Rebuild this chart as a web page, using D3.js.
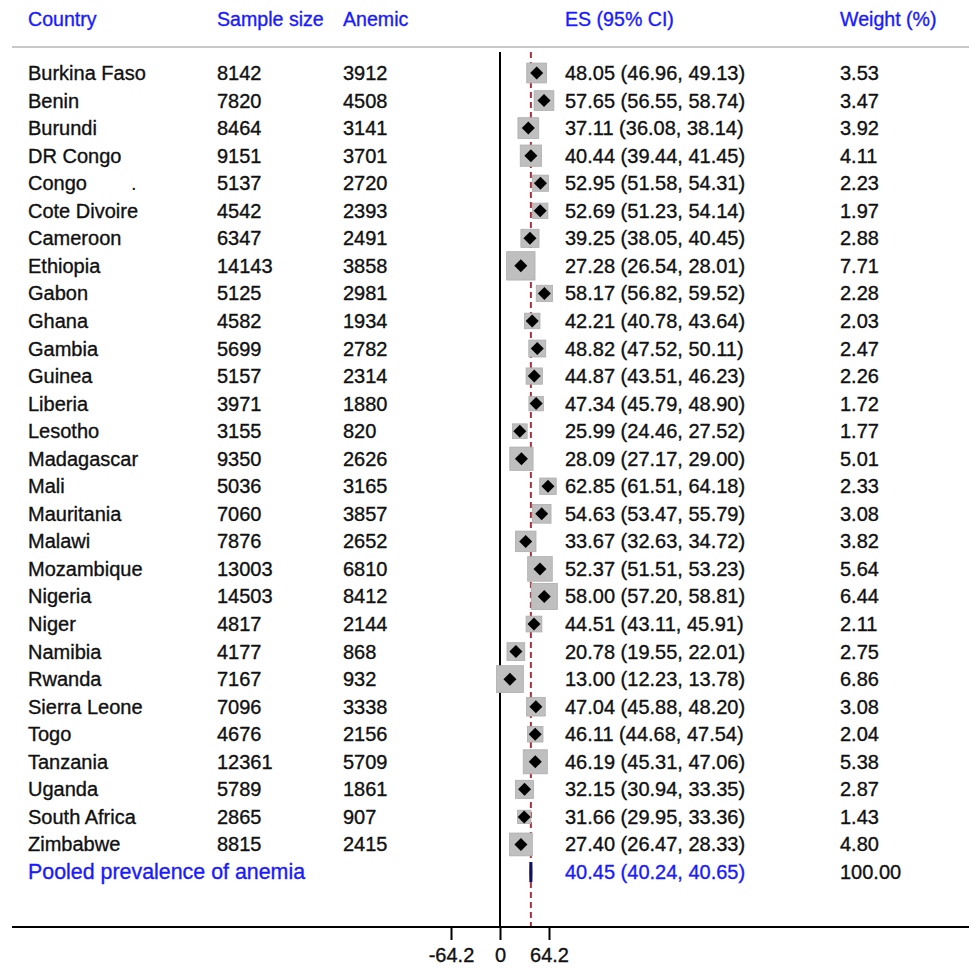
<!DOCTYPE html>
<html><head><meta charset="utf-8">
<script src="https://cdn.jsdelivr.net/npm/d3@7"></script>
<style>body{margin:0;background:#fff}svg{display:block}</style>
</head><body>
<script>
const countries=["Burkina Faso","Benin","Burundi","DR Congo","Congo","Cote Divoire","Cameroon","Ethiopia","Gabon","Ghana","Gambia","Guinea","Liberia","Lesotho","Madagascar","Mali","Mauritania","Malawi","Mozambique","Nigeria","Niger","Namibia","Rwanda","Sierra Leone","Togo","Tanzania","Uganda","South Africa","Zimbabwe"];
const sampleSize=[8142,7820,8464,9151,5137,4542,6347,14143,5125,4582,5699,5157,3971,3155,9350,5036,7060,7876,13003,14503,4817,4177,7167,7096,4676,12361,5789,2865,8815];
const anemic=[3912,4508,3141,3701,2720,2393,2491,3858,2981,1934,2782,2314,1880,820,2626,3165,3857,2652,6810,8412,2144,868,932,3338,2156,5709,1861,907,2415];
const es=[48.05,57.65,37.11,40.44,52.95,52.69,39.25,27.28,58.17,42.21,48.82,44.87,47.34,25.99,28.09,62.85,54.63,33.67,52.37,58.00,44.51,20.78,13.00,47.04,46.11,46.19,32.15,31.66,27.40];
const lo=[46.96,56.55,36.08,39.44,51.58,51.23,38.05,26.54,56.82,40.78,47.52,43.51,45.79,24.46,27.17,61.51,53.47,32.63,51.51,57.20,43.11,19.55,12.23,45.88,44.68,45.31,30.94,29.95,26.47];
const hi=[49.13,58.74,38.14,41.45,54.31,54.14,40.45,28.01,59.52,43.64,50.11,46.23,48.90,27.52,29.00,64.18,55.79,34.72,53.23,58.81,45.91,22.01,13.78,48.20,47.54,47.06,33.35,33.36,28.33];
const weight=[3.53,3.47,3.92,4.11,2.23,1.97,2.88,7.71,2.28,2.03,2.47,2.26,1.72,1.77,5.01,2.33,3.08,3.82,5.64,6.44,2.11,2.75,6.86,3.08,2.04,5.38,2.87,1.43,4.80];
const pooled={label:"Pooled prevalence of anemia",es:40.45,lo:40.24,hi:40.65,weight:"100.00"};
const headers=["Country","Sample size","Anemic","ES (95% CI)","Weight (%)"];
const axisTicks=[-64.2,0,64.2];

const W=969,H=970;
const svg=d3.select("body").append("svg").attr("width",W).attr("height",H);
const font="'Liberation Sans', Arial, sans-serif";
const fs=20;
const blue="#1a1aff";
const ink="#111";
const bold=(sel,col)=>sel.attr("stroke",col).attr("stroke-width",0.35);

const x=d3.scaleLinear().domain([0,64.2]).range([500,549]);
const rows=d3.range(countries.length+1);
const y=d3.scalePoint().domain(rows).range([73,872]);
const colX=[28,217,343,565,840];

// headers
bold(svg.selectAll("text.h").data(headers).join("text")
 .attr("x",(d,i)=>colX[i]).attr("y",19).attr("dy","0.35em")
 .attr("font-family",font).attr("font-size",19.6).attr("fill",blue).text(d=>d),blue);
svg.append("line").attr("x1",12).attr("x2",W).attr("y1",47).attr("y2",47)
 .attr("stroke","#c8c8c8").attr("stroke-width",2);

// null line & dashed pooled line
svg.append("line").attr("x1",x(0)).attr("x2",x(0)).attr("y1",52).attr("y2",927)
 .attr("stroke","#000").attr("stroke-width",2);
svg.append("line").attr("x1",x(pooled.es)).attr("x2",x(pooled.es)).attr("y1",52).attr("y2",927)
 .attr("stroke","#a8323f").attr("stroke-width",2).attr("stroke-dasharray","6,4");

const data=countries.map((c,i)=>({c,n:sampleSize[i],a:anemic[i],es:es[i],lo:lo[i],hi:hi[i],w:weight[i],i}));
const side=w=>2+9.5*Math.sqrt(w);

const g=svg.append("g");
g.selectAll("rect.box").data(data).join("rect")
 .attr("x",d=>x(d.es)-side(d.w)/2).attr("y",d=>y(d.i)-side(d.w)/2)
 .attr("width",d=>side(d.w)).attr("height",d=>side(d.w))
 .attr("fill","#bfbfbf").attr("stroke","#adadad").attr("stroke-width",0.8);
g.selectAll("line.ci").data(data).join("line")
 .attr("x1",d=>x(d.lo)).attr("x2",d=>x(d.hi)).attr("y1",d=>y(d.i)).attr("y2",d=>y(d.i))
 .attr("stroke","#000").attr("stroke-width",1);
g.selectAll("path.dia").data(data).join("path")
 .attr("d",d=>{const cx=x(d.es),cy=y(d.i),r=6.5;return `M${cx-r},${cy}L${cx},${cy-r}L${cx+r},${cy}L${cx},${cy+r}Z`;})
 .attr("fill","#000");

// pooled diamond (very narrow)
const py=y(countries.length);
svg.append("path")
 .attr("d",`M${x(pooled.lo)},${py}L${x(pooled.es)},${py-10}L${x(pooled.hi)},${py}L${x(pooled.es)},${py+10}Z`)
 .attr("fill","#101060").attr("stroke","#101060").attr("stroke-width",3);

// table text
const cols=[d=>d.c,d=>d.n,d=>d.a,d=>`${d.es.toFixed(2)} (${d.lo.toFixed(2)}, ${d.hi.toFixed(2)})`,d=>d.w.toFixed(2)];
cols.forEach((f,ci)=>{
 bold(svg.selectAll("text.c"+ci).data(data).join("text")
  .attr("x",colX[ci]).attr("y",d=>y(d.i)).attr("dy","0.35em")
  .attr("font-family",font).attr("font-size",fs).attr("fill",ink).text(f),ink);
});
// stray dot after Congo
svg.append("text").attr("x",131).attr("y",y(4)).attr("dy","0.35em")
 .attr("font-family",font).attr("font-size",fs).attr("fill",ink).text(".");

bold(svg.append("text").attr("x",colX[0]).attr("y",py).attr("dy","0.35em")
 .attr("font-family",font).attr("font-size",21.4).attr("fill",blue).text(pooled.label),blue);
bold(svg.append("text").attr("x",colX[3]).attr("y",py).attr("dy","0.35em")
 .attr("font-family",font).attr("font-size",fs).attr("fill",blue)
 .text(`${pooled.es.toFixed(2)} (${pooled.lo.toFixed(2)}, ${pooled.hi.toFixed(2)})`),blue);
bold(svg.append("text").attr("x",colX[4]).attr("y",py).attr("dy","0.35em")
 .attr("font-family",font).attr("font-size",fs).attr("fill",ink).text(pooled.weight),ink);

// axis
svg.append("line").attr("x1",12).attr("x2",W).attr("y1",927).attr("y2",927)
 .attr("stroke","#000").attr("stroke-width",2);
const ax=svg.append("g").attr("transform","translate(0,927)")
 .call(d3.axisBottom(x).tickValues(axisTicks).tickSize(13).tickPadding(8));
ax.select(".domain").remove();
ax.selectAll(".tick line").attr("stroke","#000").attr("stroke-width",2);
bold(ax.selectAll(".tick text").attr("font-family",font).attr("font-size",fs).attr("fill",ink)
 .text(d=>d<0?"-"+Math.abs(d).toFixed(1):(d===0?"0":d.toFixed(1))),ink);
</script>
</body></html>
